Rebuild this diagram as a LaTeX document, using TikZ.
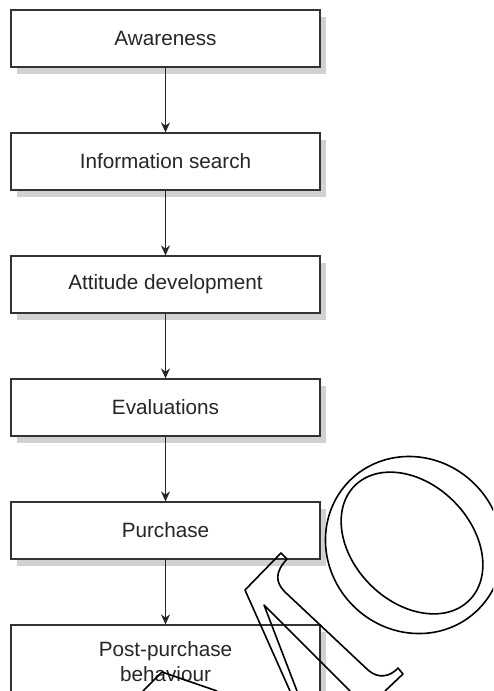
\documentclass[tikz,border=0pt]{standalone}
\usepackage{fontspec}
\setmainfont{Liberation Sans}
\usetikzlibrary{shapes.geometric, arrows.meta, positioning, calc, shadows}
\tikzstyle{stage} = [rectangle, minimum width=309pt, minimum height=57pt, text centered, align=center, draw=black!80, line width=1.2pt, fill=white, text=black!85, font=\fontsize{20.7}{25}\selectfont, drop shadow={shadow xshift=6pt, shadow yshift=-7pt, fill=black!18, opacity=1}]
\tikzstyle{arrow} = [line width=1.2pt, draw=black!85, ->, >={Stealth[length=10pt, width=9pt]}]
\tikzstyle{letter} = [line width=1.6pt, line join=round]

\begin{document}
\begin{tikzpicture}[x=1pt, y=1pt, node distance=123pt]
    % Page frame
    \clip (0,0) rectangle (493,-691);

    % Stage boxes
    \node (aware) [stage] at (165.5,-38.5) {Awareness};
    \node (search) [stage, below of=aware] {Information search};
    \node (attitude) [stage, below of=search] {Attitude development};
    \node (evaluate) [stage, below of=attitude] {Evaluations};
    \node (buy) [stage, below of=evaluate] {Purchase};
    \node (post) [stage, below of=buy, yshift=-8.5pt, minimum height=74pt] {Post-purchase\\behaviour};

    % Arrows connecting stages
    \draw[arrow] (aware.south) -- (search.north);
    \draw[arrow] (search.south) -- (attitude.north);
    \draw[arrow] (attitude.south) -- (evaluate.north);
    \draw[arrow] (evaluate.south) -- (buy.north);
    \draw[arrow] (buy.south) -- (post.north);

    % Outlined letters on top
    \draw[letter] (290,-691) -- (245,-590) -- (281,-553) -- (287,-559) .. controls (275,-572) and (275,-582) .. (285,-592) -- (368,-670) .. controls (378,-679) and (390,-677) .. (398,-668) -- (403,-674) -- (385,-691);
    \draw[letter] (297,-691) -- (264,-605) -- (350,-691);
    \draw[letter] (143,-691) -- (162,-672) -- (217,-691);
    \draw[letter, rotate around={-45:(414,-545)}] (414,-545) ellipse [x radius=91, y radius=86];
    \draw[letter, rotate around={-45:(412,-543)}] (412,-543) ellipse [x radius=81, y radius=59];
\end{tikzpicture}
\end{document}
